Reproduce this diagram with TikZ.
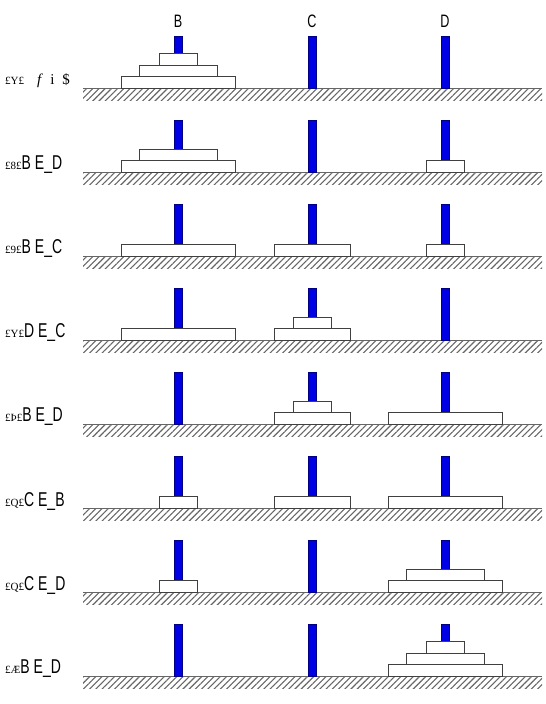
\documentclass[tikz,border=0pt]{standalone}
\usepackage{fontspec}
\setmainfont{Liberation Serif}
\newfontfamily\narrowsans{Liberation Sans}
\usetikzlibrary{patterns.meta}

\newcommand{\hanoipeg}[2]{\draw[pegline] (#1-4,#2-52) rectangle (#1+4,#2);}
\newcommand{\hanoidisk}[4]{\draw[diskline] (#1-#3,#2-11.5*#4-11.5) rectangle (#1+#3,#2-11.5*#4);}
\newcommand{\hanoiground}[1]{%
  \fill[pattern={Lines[angle=45,distance=4.4pt,line width=1.1pt]},pattern color=black!60] (83,#1) rectangle (542,#1+12);
  \draw[black!60,line width=0.9pt] (83,#1) -- (542,#1);}
\newcommand{\movetext}[2]{{\fontsize{11}{11}\selectfont #1}\scalebox{0.7}[1]{\narrowsans\fontsize{20}{20}\selectfont #2}}

\begin{document}
\begin{tikzpicture}[x=1pt,y=-1pt,
  pegline/.style={fill=blue!90!black,draw=blue!50!black,line width=0.5pt},
  diskline/.style={fill=white,draw=black!75,line width=0.9pt},
  rowlabel/.style={anchor=west,inner sep=0pt}]
\useasboundingbox (0,0) rectangle (546,704);
\foreach \g in {88,172,256,340,424,508,592,676}{
  \hanoiground{\g}
  \hanoipeg{178}{\g}
  \hanoipeg{312}{\g}
  \hanoipeg{445}{\g}
}
% peg names
\node (lB) at (178,21) {\scalebox{0.7}[1]{\narrowsans\fontsize{18}{18}\selectfont B}};
\node (lC) at (312,21) {\scalebox{0.7}[1]{\narrowsans\fontsize{18}{18}\selectfont C}};
\node (lD) at (445,21) {\scalebox{0.7}[1]{\narrowsans\fontsize{18}{18}\selectfont D}};
% row labels
\node[rowlabel] (s0) at (5,81) {{\fontsize{11}{11}\selectfont £Y£}\hspace{13pt}{\fontsize{15}{15}\selectfont\itshape f}\hspace{9pt}{\fontsize{15}{15}\selectfont i}\hspace{8pt}{\fontsize{15}{15}\selectfont \$}};
\node[rowlabel] (s1) at (5,165) {\movetext{£8£}{B E\_D}};
\node[rowlabel] (s2) at (5,249) {\movetext{£9£}{B E\_C}};
\node[rowlabel] (s3) at (5,333) {\movetext{£Y£}{D E\_C}};
\node[rowlabel] (s4) at (5,417) {\movetext{£Þ£}{B E\_D}};
\node[rowlabel] (s5) at (5,501) {\movetext{£Q£}{C E\_B}};
\node[rowlabel] (s6) at (5,585) {\movetext{£Q£}{C E\_D}};
\node[rowlabel] (s7) at (5,669) {\movetext{£Æ}{B E\_D}};
% start
\hanoidisk{178}{88}{57}{0} \hanoidisk{178}{88}{39}{1} \hanoidisk{178}{88}{19}{2}
% B to D
\hanoidisk{178}{172}{57}{0} \hanoidisk{178}{172}{39}{1} \hanoidisk{445}{172}{19}{0}
% B to C
\hanoidisk{178}{256}{57}{0} \hanoidisk{312}{256}{38}{0} \hanoidisk{445}{256}{19}{0}
% D to C
\hanoidisk{178}{340}{57}{0} \hanoidisk{312}{340}{38}{0} \hanoidisk{312}{340}{19}{1}
% B to D
\hanoidisk{312}{424}{38}{0} \hanoidisk{312}{424}{19}{1} \hanoidisk{445}{424}{57}{0}
% C to B
\hanoidisk{178}{508}{19}{0} \hanoidisk{312}{508}{38}{0} \hanoidisk{445}{508}{57}{0}
% C to D
\hanoidisk{178}{592}{19}{0} \hanoidisk{445}{592}{57}{0} \hanoidisk{445}{592}{39}{1}
% B to D
\hanoidisk{445}{676}{57}{0} \hanoidisk{445}{676}{39}{1} \hanoidisk{445}{676}{19}{2}
\end{tikzpicture}
\end{document}
